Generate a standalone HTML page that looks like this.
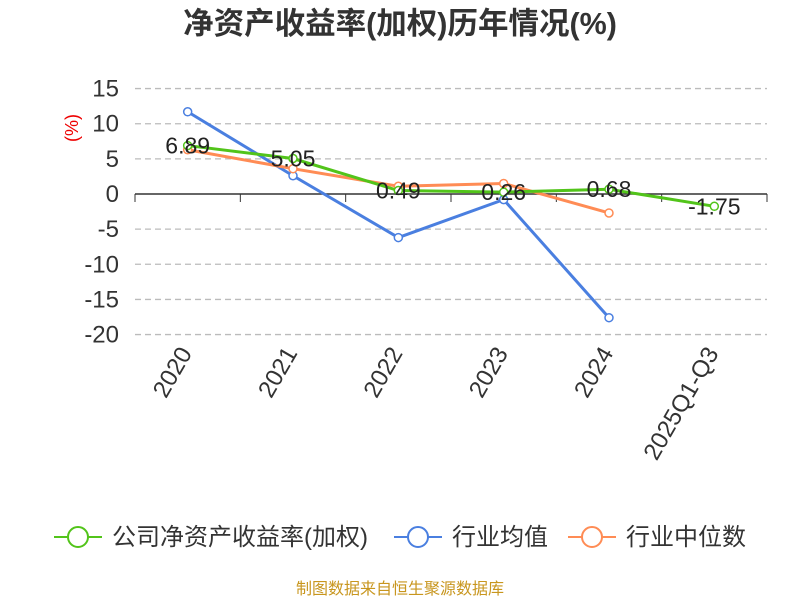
<!DOCTYPE html>
<html><head><meta charset="utf-8"><style>
body{margin:0;background:#fff;font-family:"Liberation Sans","Noto Sans CJK SC",sans-serif}
</style></head><body>
<svg id="c" width="800" height="600" xmlns="http://www.w3.org/2000/svg" font-family="Liberation Sans, Noto Sans CJK SC, sans-serif">
<text x="400" y="34" text-anchor="middle" font-size="30.5" font-weight="bold" fill="#333">净资产收益率(加权)历年情况(%)</text>
<text x="78" y="128" fill="#e00" font-size="18" transform="rotate(-90 78 128)" text-anchor="middle">(%)</text>
<g id="grid"></g><g id="axes"></g><g id="series"></g>
<g font-size="24" fill="#333">
<g><line x1="54" y1="537" x2="102" y2="537" stroke="#52c41a" stroke-width="2"/><circle cx="78" cy="537" r="10" fill="#fff" stroke="#52c41a" stroke-width="2"/><text x="112" y="545">公司净资产收益率(加权)</text></g>
<g><line x1="394" y1="537" x2="442" y2="537" stroke="#4a7fe0" stroke-width="2"/><circle cx="418" cy="537" r="10" fill="#fff" stroke="#4a7fe0" stroke-width="2"/><text x="452" y="545">行业均值</text></g>
<g><line x1="568" y1="537" x2="616" y2="537" stroke="#ff8c55" stroke-width="2"/><circle cx="592" cy="537" r="10" fill="#fff" stroke="#ff8c55" stroke-width="2"/><text x="626" y="545">行业中位数</text></g>
</g>
<text x="400" y="594" text-anchor="middle" font-size="16" fill="#c8961e">制图数据来自恒生聚源数据库</text>
</svg>
<script>
const categories=["2020","2021","2022","2023","2024","2025Q1-Q3"];
const company=[6.89,5.05,0.49,0.26,0.68,-1.75];
const companyLabels=["6.89","5.05","0.49","0.26","0.68","-1.75"];
const industryMean=[11.7,2.6,-6.2,-0.8,-17.6,null];
const industryMedian=[6.3,3.6,1.1,1.5,-2.7,null];
const yTicks=[15,10,5,0,-5,-10,-15,-20];
const NS="http://www.w3.org/2000/svg";
const L=135,R=767,band=(R-L)/categories.length;
const x=i=>L+band*(i+0.5);
const y=v=>194-v*(246/35);
function mk(p,t,a){const e=document.createElementNS(NS,t);for(const k in a)e.setAttribute(k,a[k]);p.appendChild(e);return e;}
const grid=document.getElementById('grid'),axes=document.getElementById('axes'),ser=document.getElementById('series');
yTicks.forEach(v=>{
 if(v!==0){const g=mk(grid,'line',{x1:L,x2:R,y1:y(v),y2:y(v),stroke:'#bbb','stroke-dasharray':'6,4','stroke-width':1.3});
 
 }
 const t=mk(axes,'text',{x:119,y:y(v)+8,'text-anchor':'end','font-size':24,fill:'#333'});t.textContent=v;
 
 
});
const ax=mk(axes,'line',{x1:L,x2:R,y1:y(0),y2:y(0),stroke:'#333','stroke-width':1.5});


for(let i=0;i<=categories.length;i++){const tk=mk(axes,'line',{x1:L+band*i,x2:L+band*i,y1:y(0),y2:y(0)+8,stroke:'#333'});
 
 }
categories.forEach((c,i)=>{const t=mk(axes,'text',{x:x(i)+5,y:353,'text-anchor':'end','font-size':24,fill:'#333',transform:`rotate(-60 ${x(i)+5} 353)`});t.textContent=c;
 
 });
function line(data,color,name){
 const g=mk(ser,'g',{});
 
 
 const pts=data.map((v,i)=>v==null?null:[x(i),y(v)]).filter(p=>p);
 mk(g,'polyline',{points:pts.map(p=>p.join(',')).join(' '),fill:'none',stroke:color,'stroke-width':3});
 pts.forEach(p=>{const c=mk(g,'circle',{cx:p[0],cy:p[1],r:4,fill:'#fff',stroke:color,'stroke-width':1.5});
  
  });
}
line(industryMean,'#4a7fe0','industry-mean-line');
line(industryMedian,'#ff8c55','industry-median-line');
line(company,'#52c41a','company-line');
company.forEach((v,i)=>{const t=mk(ser,'text',{x:x(i),y:y(v)+8,'text-anchor':'middle','font-size':23,fill:'#222'});t.textContent=companyLabels[i];
 
 });
</script>
</body></html>
